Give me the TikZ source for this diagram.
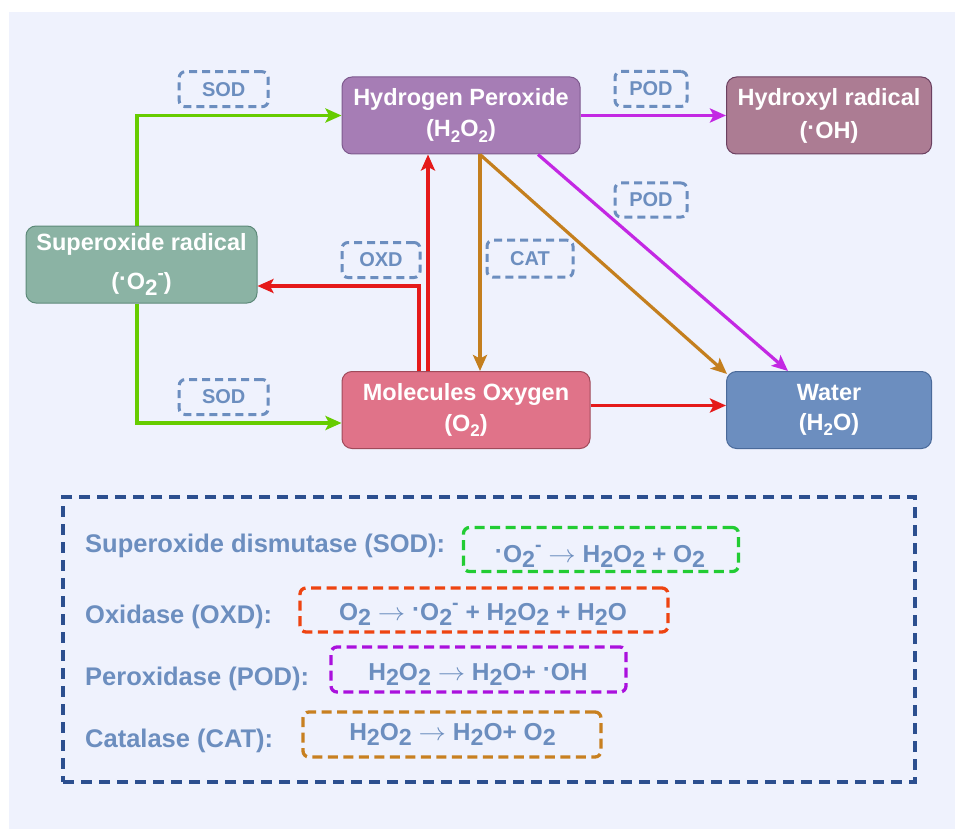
\documentclass[tikz,border=0pt]{standalone}
\usepackage{fontspec}
\setmainfont{Liberation Sans}
\usepackage{graphicx}
\usetikzlibrary{arrows.meta,calc}
\definecolor{bgc}{HTML}{EFF2FD}
\definecolor{hpc}{HTML}{A67DB5}
\definecolor{hpd}{HTML}{7E5A8E}
\definecolor{ohc}{HTML}{AC7C93}
\definecolor{ohd}{HTML}{6B4060}
\definecolor{supc}{HTML}{8BB3A4}
\definecolor{supd}{HTML}{5E8A7A}
\definecolor{oxc}{HTML}{E07389}
\definecolor{oxd}{HTML}{A04A5A}
\definecolor{wac}{HTML}{6C8EBF}
\definecolor{wad}{HTML}{4A6A9A}
\definecolor{labc}{HTML}{6C8EBF}
\definecolor{arrg}{HTML}{66CC00}
\definecolor{arrr}{HTML}{E51A1A}
\definecolor{arrb}{HTML}{C47F1E}
\definecolor{arrp}{HTML}{C328E3}
\definecolor{legc}{HTML}{2C4F8F}
\definecolor{eqg}{HTML}{22CC33}
\definecolor{eqo}{HTML}{EE4411}
\definecolor{eqp}{HTML}{AA11DD}
\definecolor{eqb}{HTML}{C88020}
\newcommand\nsub[1]{\raisebox{-0.22em}{\scalebox{0.72}{#1}}}
\newcommand\esub[1]{\raisebox{-0.24em}{\scalebox{0.95}{#1}}}
\newcommand\sminus{\raisebox{0.42em}{\scalebox{0.8}{-}}}
\newcommand\mdot{\raisebox{0.12em}{·}}
\newcommand\rarr{\scalebox{1.1}[1]{$\rightarrow$}}
\begin{document}
\begin{tikzpicture}[x=1pt,y=-1pt,
  box/.style={rectangle, rounded corners=10pt, line width=1pt, text=white,
    align=center, inner sep=0pt, minimum height=77pt},
  lab/.style={draw=labc, dash pattern=on 8pt off 5pt, line width=3pt,
    rounded corners=6pt, text=labc, font=\fontsize{20}{24}\selectfont\bfseries,
    inner sep=0pt},
  arr/.style={line width=3.2pt, -{Stealth[length=16pt,width=14pt,inset=3.5pt]}},
  leg/.style={text=labc, font=\fontsize{25.5}{30}\selectfont\bfseries,
    anchor=base west, inner sep=0pt},
  eqbox/.style={line width=3.3pt, dash pattern=on 10pt off 5.5pt,
    rounded corners=6pt, inner sep=0pt},
  eqtxt/.style={text=labc, font=\fontsize{24.5}{28}\selectfont\bfseries, anchor=base,
    inner sep=0pt}]
\useasboundingbox (0,0) rectangle (955,829);
\fill[bgc] (9,12) rectangle (955,829);

% main nodes
\node[box, fill=hpc, draw=hpd, minimum width=238pt,
  font=\fontsize{23.5}{31}\selectfont\bfseries] (h2o2) at (461,115.5)
  {Hydrogen Peroxide\\(H\nsub{2}O\nsub{2})};
\node[box, fill=ohc, draw=ohd, minimum width=205pt,
  font=\fontsize{23.5}{33}\selectfont\bfseries] (oh) at (829,115.5)
  {Hydroxyl radical\\(\mdot OH)};
\node[box, fill=supc, draw=supd, minimum width=231pt,
  font=\fontsize{23.5}{39}\selectfont\bfseries] (sup) at (141.5,264.5)
  {Superoxide radical\\(\mdot O\esub{2}\sminus)};
\node[box, fill=oxc, draw=oxd, minimum width=248pt,
  font=\fontsize{23.5}{31}\selectfont\bfseries] (o2) at (466,410)
  {Molecules Oxygen\\(O\nsub{2})};
\node[box, fill=wac, draw=wad, minimum width=205pt,
  font=\fontsize{23.5}{30}\selectfont\bfseries] (water) at (829,410)
  {Water\\(H\nsub{2}O)};

% enzyme labels
\node[lab, minimum width=89pt, minimum height=35pt] (sod1) at (223.7,89.2) {SOD};
\node[lab, minimum width=89pt, minimum height=35pt] (sod2) at (223.7,397) {SOD};
\node[lab, minimum width=78pt, minimum height=35pt] (oxd) at (381,260) {OXD};
\node[lab, minimum width=86pt, minimum height=37pt] (cat) at (530,258.7) {CAT};
\node[lab, minimum width=72pt, minimum height=35pt] (pod1) at (651,89) {POD};
\node[lab, minimum width=72pt, minimum height=34pt] (pod2) at (651,200) {POD};

% connectors
\coordinate (gx) at (137,0);
\coordinate (rx1) at (419,0);
\coordinate (rx2) at (428,0);
\coordinate (bx) at (480,0);
\draw[arr, arrg] (sup.north -| gx) |- (h2o2.west);
\draw[arr, arrg] (sup.south -| gx) |- ($(o2.west)+(0,13)$);
\draw[arr, arrr] (o2.north -| rx1) |- ($(sup.east)+(0,21.5)$);
\draw[arr, arrr] (o2.north -| rx2) -- (h2o2.south -| rx2);
\draw[arr, arrb] (h2o2.south -| bx) -- (o2.north -| bx);
\draw[arr, arrb] (h2o2.south -| bx) -- ($(water.north west)+(1,3)$);
\draw[arr, arrp] ($(h2o2.south)+(77,0)$) -- ($(water.north)+(-41,0)$);
\draw[arr, arrp] (h2o2.east) -- (oh.west);
\draw[arr, arrr] ($(o2.east)+(0,-4.5)$) -- ($(water.west)+(0,-4.5)$);

% legend
\node[draw=legc, line width=3.5pt, dash pattern=on 11pt off 7pt,
  minimum width=852pt, minimum height=285pt, inner sep=0pt] (legend) at (489,639.5) {};
\node[leg] (l1) at (85,552) {Superoxide dismutase (SOD):};
\node[leg] (l2) at (85,623) {Oxidase (OXD):};
\node[leg] (l3) at (85,685) {Peroxidase (POD):};
\node[leg] (l4) at (85,747) {Catalase (CAT):};

\node[eqbox, draw=eqg, minimum width=275pt, minimum height=44pt] (e1) at (601,549.5) {};
\node[eqbox, draw=eqo, minimum width=368pt, minimum height=44pt] (e2) at (484,610) {};
\node[eqbox, draw=eqp, minimum width=295pt, minimum height=45pt] (e3) at (478.5,669.5) {};
\node[eqbox, draw=eqb, minimum width=298pt, minimum height=45pt] (e4) at (452,734.5) {};

\node[eqtxt] (t1) at (600,562) {\mdot O\esub{2}\sminus{} \rarr{} H\esub{2}O\esub{2} + O\esub{2}};
\node[eqtxt] (t2) at (483,620) {O\esub{2} \rarr{} \mdot O\esub{2}\sminus{} + H\esub{2}O\esub{2} + H\esub{2}O};
\node[eqtxt] (t3) at (478,680) {H\esub{2}O\esub{2} \rarr{} H\esub{2}O+ \mdot OH};
\node[eqtxt] (t4) at (452.5,740) {H\esub{2}O\esub{2} \rarr{} H\esub{2}O+ O\esub{2}};
\end{tikzpicture}
\end{document}
